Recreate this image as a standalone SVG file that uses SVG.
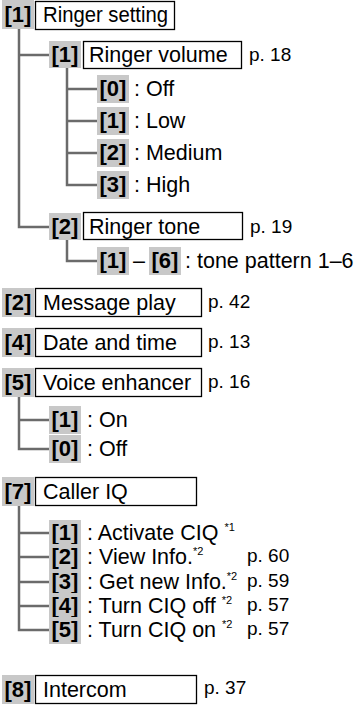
<svg xmlns="http://www.w3.org/2000/svg" width="355" height="712" viewBox="0 0 355 712">
<style>
text{font-family:"Liberation Sans",Arial,sans-serif;fill:#000}
.k{fill:#c8c8c8}
.b{font-weight:bold;font-size:22px;text-anchor:middle}
.t{font-size:21.5px}
.p{font-size:19px}
.s{font-size:11px}
.r{fill:#fff;stroke:#000;stroke-width:1.3}
.c{fill:none;stroke:#6b6b6b;stroke-width:2.5}
</style>
<rect width="355" height="712" fill="#fff"/>
<g id="connectors">
<path class="c" d="M19 29V227H49M19 55H49"/>
<path class="c" d="M67 68V185H97M67 89H97M67 121H97M67 153H97"/>
<path class="c" d="M67 240V261H97"/>
<path class="c" d="M19 397V449H49M19 420H49"/>
<path class="c" d="M19 506V630H49M19 533H49M19 557H49M19 582H49M19 606H49"/>
</g>
<g id="n1">
<rect class="k" x="2" y="0" width="32" height="29"/><text class="b" x="18" y="22">[1]</text>
<rect class="r" x="35.5" y="1.5" width="139" height="28"/><text class="t" x="43" y="22" textLength="125" lengthAdjust="spacingAndGlyphs">Ringer setting</text>
</g>
<g id="n1-1">
<rect class="k" x="49" y="41" width="32" height="27"/><text class="b" x="65" y="62">[1]</text>
<rect class="r" x="83.5" y="41.5" width="158" height="27"/><text class="t" x="89" y="62">Ringer volume</text>
<text class="p" x="249" y="61">p. 18</text>
</g>
<g id="n1-1-0"><rect class="k" x="97" y="75" width="32" height="28"/><text class="b" x="113" y="96">[0]</text><text class="t" x="134" y="96">: Off</text></g>
<g id="n1-1-1"><rect class="k" x="97" y="107" width="32" height="28"/><text class="b" x="113" y="128">[1]</text><text class="t" x="134" y="128">: Low</text></g>
<g id="n1-1-2"><rect class="k" x="97" y="139" width="32" height="28"/><text class="b" x="113" y="160">[2]</text><text class="t" x="134" y="160">: Medium</text></g>
<g id="n1-1-3"><rect class="k" x="97" y="171" width="32" height="28"/><text class="b" x="113" y="192">[3]</text><text class="t" x="134" y="192">: High</text></g>
<g id="n1-2">
<rect class="k" x="49" y="213" width="32" height="27"/><text class="b" x="65" y="234">[2]</text>
<rect class="r" x="83.5" y="212.5" width="159" height="27"/><text class="t" x="89" y="234">Ringer tone</text>
<text class="p" x="250" y="233">p. 19</text>
</g>
<g id="n1-2-1">
<rect class="k" x="97" y="247" width="32" height="28"/><text class="b" x="113" y="268">[1]</text>
<text class="t" x="133" y="268">–</text>
<rect class="k" x="149" y="247" width="32" height="28"/><text class="b" x="165" y="268">[6]</text>
<text class="t" x="185" y="268">: tone pattern 1–6</text>
</g>
<g id="n2">
<rect class="k" x="2" y="288" width="32" height="29"/><text class="b" x="18" y="310">[2]</text>
<rect class="r" x="35.5" y="288.5" width="166" height="28"/><text class="t" x="43" y="310">Message play</text>
<text class="p" x="208" y="308">p. 42</text>
</g>
<g id="n4">
<rect class="k" x="2" y="328" width="32" height="29"/><text class="b" x="18" y="350">[4]</text>
<rect class="r" x="35.5" y="328.5" width="166" height="28"/><text class="t" x="43" y="350">Date and time</text>
<text class="p" x="208" y="348">p. 13</text>
</g>
<g id="n5">
<rect class="k" x="2" y="368" width="32" height="29"/><text class="b" x="18" y="390">[5]</text>
<rect class="r" x="35.5" y="368.5" width="166" height="28"/><text class="t" x="43" y="390">Voice enhancer</text>
<text class="p" x="208" y="388">p. 16</text>
</g>
<g id="n5-1"><rect class="k" x="49" y="406" width="32" height="28"/><text class="b" x="65" y="427">[1]</text><text class="t" x="87" y="427">: On</text></g>
<g id="n5-0"><rect class="k" x="49" y="435" width="32" height="28"/><text class="b" x="65" y="456">[0]</text><text class="t" x="87" y="456">: Off</text></g>
<g id="n7">
<rect class="k" x="2" y="477" width="32" height="29"/><text class="b" x="18" y="499">[7]</text>
<rect class="r" x="35.5" y="477.5" width="161" height="28"/><text class="t" x="43" y="499">Caller IQ</text>
</g>
<g id="n7-1"><rect class="k" x="49" y="520" width="32" height="27"/><text class="b" x="65" y="540">[1]</text><text class="t" x="87" y="540">: Activate CIQ <tspan class="s" dy="-9">*1</tspan></text></g>
<g id="n7-2"><rect class="k" x="49" y="544" width="32" height="27"/><text class="b" x="65" y="564">[2]</text><text class="t" x="87" y="564">: View Info.<tspan class="s" dy="-9">*2</tspan></text><text class="p" x="247" y="562">p. 60</text></g>
<g id="n7-3"><rect class="k" x="49" y="569" width="32" height="27"/><text class="b" x="65" y="589">[3]</text><text class="t" x="87" y="589">: Get new Info.<tspan class="s" dy="-9">*2</tspan></text><text class="p" x="247" y="587">p. 59</text></g>
<g id="n7-4"><rect class="k" x="49" y="593" width="32" height="27"/><text class="b" x="65" y="613">[4]</text><text class="t" x="87" y="613">: Turn CIQ off <tspan class="s" dy="-9">*2</tspan></text><text class="p" x="247" y="611">p. 57</text></g>
<g id="n7-5"><rect class="k" x="49" y="617" width="32" height="27"/><text class="b" x="65" y="637">[5]</text><text class="t" x="87" y="637">: Turn CIQ on <tspan class="s" dy="-9">*2</tspan></text><text class="p" x="247" y="635">p. 57</text></g>
<g id="n8">
<rect class="k" x="2" y="675" width="32" height="29"/><text class="b" x="18" y="697">[8]</text>
<rect class="r" x="35.5" y="675.5" width="161" height="28"/><text class="t" x="43" y="697">Intercom</text>
<text class="p" x="204" y="694">p. 37</text>
</g>
</svg>
